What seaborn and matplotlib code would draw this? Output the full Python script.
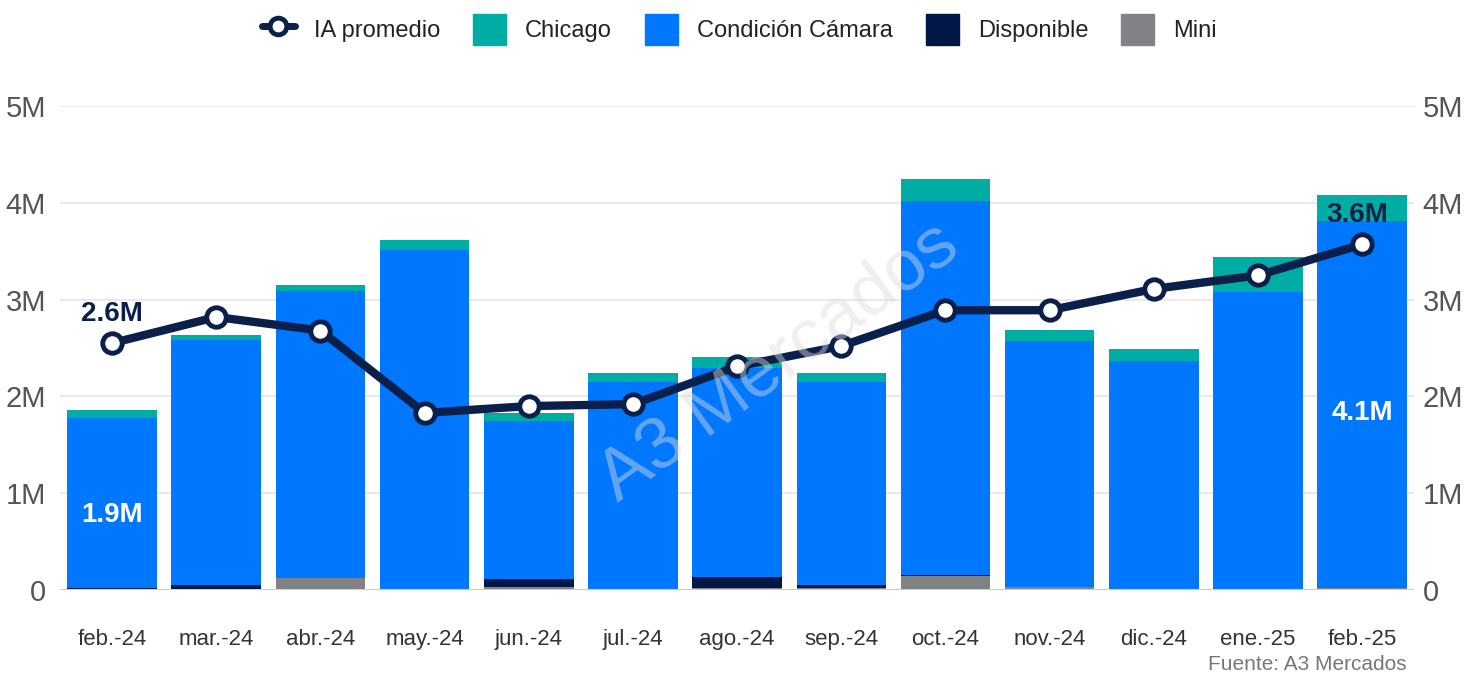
import seaborn as sns
import pandas as pd
import numpy as np
import matplotlib.pyplot as plt
from matplotlib.patches import Patch
from matplotlib.lines import Line2D
from matplotlib.ticker import FuncFormatter

sns.set_theme(style="white")
plt.rcParams['font.family'] = ['Liberation Sans', 'DejaVu Sans']

# datos (millones)
meses = ["feb.-24", "mar.-24", "abr.-24", "may.-24", "jun.-24", "jul.-24", "ago.-24",
         "sep.-24", "oct.-24", "nov.-24", "dic.-24", "ene.-25", "feb.-25"]
mini = [0.01, 0.01, 0.12, 0.005, 0.03, 0.01, 0.02, 0.02, 0.15, 0.03, 0.01, 0.01, 0.02]
disponible = [0.01, 0.04, 0.005, 0.0, 0.08, 0.0, 0.11, 0.03, 0.01, 0.0, 0.0, 0.0, 0.0]
condicion = [1.76, 2.53, 2.965, 3.505, 1.64, 2.14, 2.16, 2.10, 3.86, 2.54, 2.36, 3.07, 3.79]
chicago = [0.08, 0.05, 0.06, 0.11, 0.08, 0.09, 0.12, 0.09, 0.23, 0.12, 0.12, 0.36, 0.27]
ia_promedio = [2.55, 2.82, 2.68, 1.83, 1.90, 1.92, 2.31, 2.52, 2.89, 2.89, 3.11, 3.25, 3.57]

col_chicago = "#00ADA5"
col_cond = "#0077FF"
col_disp = "#001845"
col_mini = "#808285"
col_linea = "#0B1F4B"

df = pd.DataFrame({"mes": meses, "mini": mini, "disp": disponible,
                   "cond": condicion, "chicago": chicago, "ia": ia_promedio})
df["c_mini"] = df["mini"]
df["c_disp"] = df["c_mini"] + df["disp"]
df["c_cond"] = df["c_disp"] + df["cond"]
df["c_total"] = df["c_cond"] + df["chicago"]
df["x"] = np.arange(len(df))

fig = plt.figure(figsize=(14.64, 6.79), dpi=100)
ax = fig.add_axes([0.041, 0.131, 0.925, 0.713])

# barras apiladas (capas de arriba hacia abajo)
for col, color in [("c_total", col_chicago), ("c_cond", col_cond),
                   ("c_disp", col_disp), ("c_mini", col_mini)]:
    sns.barplot(data=df, x="mes", y=col, color=color, width=0.86,
                saturation=1, ax=ax, linewidth=0, zorder=2)

sns.lineplot(data=df, x="x", y="ia", ax=ax, color=col_linea, linewidth=6,
             marker="o", markersize=14, markerfacecolor="white",
             markeredgecolor=col_linea, markeredgewidth=3.5, zorder=5)

ax.set_ylim(0, 5)
ax.set_xlim(-0.5, len(df) - 0.5)
ax.set_yticks([0, 1, 2, 3, 4, 5])
fmt = FuncFormatter(lambda v, p: "0" if v == 0 else f"{v:.0f}M")
ax.yaxis.set_major_formatter(fmt)
ax.grid(axis="y", color="#E6E6E6", linewidth=1.2, zorder=0)
ax.set_axisbelow(True)
ax.set_xlabel("")
ax.set_ylabel("")
for s in ax.spines.values():
    s.set_visible(False)
ax.axhline(0, color="#CCCCCC", linewidth=1.5, zorder=3)
ax.tick_params(axis="x", labelsize=16, colors="#333333", length=0, pad=28)
ax.tick_params(axis="y", labelsize=21, colors="#555555", length=0, pad=10)

ax2 = ax.twinx()
ax2.set_ylim(ax.get_ylim())
ax2.set_yticks([0, 1, 2, 3, 4, 5])
ax2.yaxis.set_major_formatter(fmt)
ax2.tick_params(axis="y", labelsize=21, colors="#555555", length=0, pad=6)
for s in ax2.spines.values():
    s.set_visible(False)

# etiquetas
ax.text(0, df["ia"][0] + 0.17, "2.6M", ha="center", va="bottom", fontsize=20,
        fontweight="bold", color=col_linea, zorder=6)
ax.text(12 - 0.05, df["ia"][12] + 0.17, "3.6M", ha="center", va="bottom", fontsize=20,
        fontweight="bold", color=col_linea, zorder=6)
ax.text(0, 0.77, "1.9M", ha="center", va="center", fontsize=20,
        fontweight="bold", color="white", zorder=6)
ax.text(12, 1.83, "4.1M", ha="center", va="center", fontsize=20,
        fontweight="bold", color="white", zorder=6)

# marca de agua
ax.text(6.4, 2.35, "A3 Mercados", ha="center", va="center", fontsize=52,
        color="#DDDDDD", alpha=0.45, rotation=36, zorder=7)

fig.text(0.961, 0.008, "Fuente: A3 Mercados", ha="right", va="bottom",
         fontsize=15, color="#777777")

handles = [
    Line2D([0], [0], color=col_linea, linewidth=5, marker="o", markersize=12,
           markerfacecolor="white", markeredgecolor=col_linea, markeredgewidth=3.5),
    Patch(color=col_chicago), Patch(color=col_cond), Patch(color=col_disp), Patch(color=col_mini),
]
labels = ["IA promedio", "Chicago", "Condición Cámara", "Disponible", "Mini"]
fig.legend(handles, labels, loc="upper center", bbox_to_anchor=(0.505, 1.01), ncol=5,
           frameon=False, fontsize=17, handlelength=1.4, handleheight=1.6,
           handletextpad=0.8, columnspacing=1.4, labelcolor="#222222")

fig.savefig("out.png", dpi=100)
